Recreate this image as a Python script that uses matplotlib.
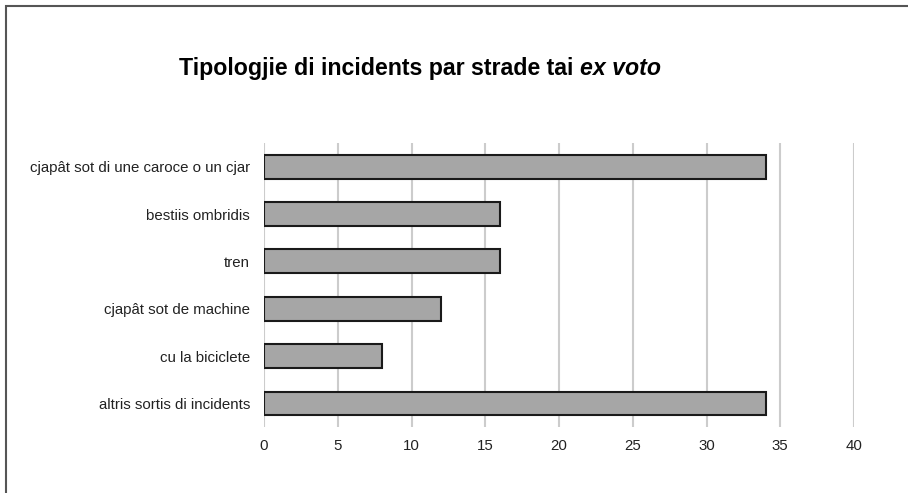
import matplotlib
matplotlib.use("Agg")
import matplotlib.pyplot as plt
from matplotlib.patches import Rectangle

categories = ["cjapât sot di une caroce o un cjar", "bestiis ombridis", "tren",
              "cjapât sot de machine", "cu la biciclete", "altris sortis di incidents"]
values = [34, 16, 16, 12, 8, 34]
xticks = [0, 5, 10, 15, 20, 25, 30, 35, 40]
title_bold = "Tipologjie di incidents par strade tai "
title_italic = "ex voto"

plt.rcParams['font.family'] = ['Liberation Sans', 'DejaVu Sans']

W, H = 908, 493
fig = plt.figure(figsize=(W / 100, H / 100), dpi=100)
ax = fig.add_axes([264 / W, 1 - 427 / H, (854 - 264) / W, (427 - 143) / H])

ypos = list(range(len(categories)))
ax.barh(ypos, values, height=0.5, color="#a6a6a6", edgecolor="#1a1a1a", linewidth=1.5, zorder=3)
ax.set_ylim(len(categories) - 0.5, -0.5)
ax.set_xlim(0, 40)
ax.set_yticks(ypos)
ax.set_yticklabels(categories, fontsize=10.8, color="#222222")
ax.set_xticks(xticks)
ax.set_xticklabels([str(t) for t in xticks], fontsize=10.8, color="#222222")
ax.tick_params(axis="y", length=0, pad=10)
ax.tick_params(axis="x", length=0, pad=9)
for s in ax.spines.values():
    s.set_visible(False)
ax.grid(axis="x", color="#cccccc", linewidth=1.5, zorder=0)
ax.set_axisbelow(True)

# frame
fig.patches.append(Rectangle((5.5 / W, -0.1), 1.2, 1 - 5.5 / H + 0.1, transform=fig.transFigure,
                             fill=False, edgecolor="#555555", linewidth=1.5))

# title: bold + bold italic, centered
fs = 16.7
fig.canvas.draw()
r = fig.canvas.get_renderer()
t1 = fig.text(0, 0, title_bold, fontsize=fs, fontweight="bold")
t2 = fig.text(0, 0, title_italic, fontsize=fs, fontweight="bold", fontstyle="italic")
w1 = t1.get_window_extent(r).width
w2 = t2.get_window_extent(r).width
cx = 420
x0 = cx - (w1 + w2) / 2
yb = H - 75
t1.set_position((x0 / W, yb / H))
t2.set_position(((x0 + w1) / W, yb / H))
t1.set_va("baseline"); t2.set_va("baseline")

fig.savefig("out.png", dpi=100)
